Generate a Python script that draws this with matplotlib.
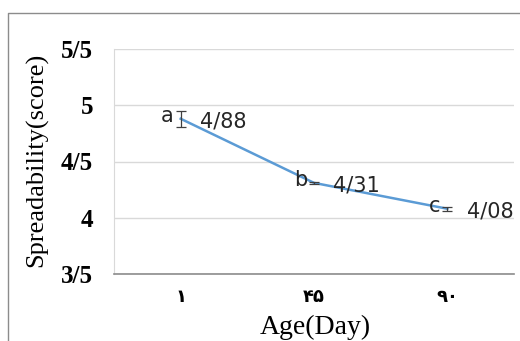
import matplotlib
matplotlib.use('Agg')
import matplotlib.pyplot as plt
from matplotlib.lines import Line2D

##########Data
days = ['۱', '۴۵', '۹۰']
score = [4.88, 4.31, 4.08]
err = [0.07, 0.01, 0.02]
letters = ['a', 'b', 'c']
yticks = [3.5, 4, 4.5, 5, 5.5]
ytick_labels = ['3/5', '4', '4/5', '5', '5/5']

#####
fig = plt.figure(figsize=(5.2, 3.41), dpi=100)
fig.patch.set_facecolor('white')
ax = fig.add_axes([114/520, 1-274/341, 400/520, 225/341])

x = list(range(len(days)))
ax.plot(x, score, color='#5B9BD5', lw=1.8, zorder=3)
ax.errorbar(x, score, yerr=err, fmt='none', ecolor='#404040', elinewidth=0.9,
            capsize=3.5, capthick=0.9, zorder=4)

for i in x:
    lab = f'{score[i]:.2f}'.replace('.', '/')
    ax.annotate(lab, (i, score[i]), xytext=(14, -2), textcoords='offset points',
                ha='left', va='center', fontsize=15, family='DejaVu Sans', color='#262626')
    ax.annotate(letters[i], (i, score[i]), xytext=(-5, 2), textcoords='offset points',
                ha='right', va='center', fontsize=15, family='DejaVu Sans', color='#262626')

ax.set_xlim(-0.5, 2.5)
ax.set_ylim(3.5, 5.5)
ax.set_yticks(yticks)
ax.set_yticklabels(ytick_labels, family='Liberation Serif', fontweight='bold', fontsize=18)
ax.set_xticks(x)
ax.set_xticklabels(days, family=['Liberation Serif', 'DejaVu Sans'], fontweight='bold', fontsize=13)
ax.tick_params(axis='y', length=0, pad=15)
ax.tick_params(axis='x', length=0, pad=11)

ax.grid(axis='y', color='#D9D9D9', lw=1)
ax.set_axisbelow(True)
for s in ['top', 'right']:
    ax.spines[s].set_visible(False)
ax.spines['left'].set_color('#D9D9D9')
ax.spines['bottom'].set_color('#8C8C8C')
ax.spines['bottom'].set_linewidth(1.2)

fig.text(37/520, 1-160/341, 'Spreadability(score)', rotation=90, ha='center', va='center',
         family='Liberation Serif', fontsize=19)
fig.text(315/520, 1-327/341, 'Age(Day)', ha='center', va='center',
         family='Liberation Serif', fontsize=20)

# outer frame (left and top edges)
fx, fy = 7.5/520, 1-12.5/341
fig.add_artist(Line2D([fx, fx, 1], [0, fy, fy], transform=fig.transFigure,
                      color='#8C8C8C', lw=1))

fig.savefig('out.png', dpi=100)
